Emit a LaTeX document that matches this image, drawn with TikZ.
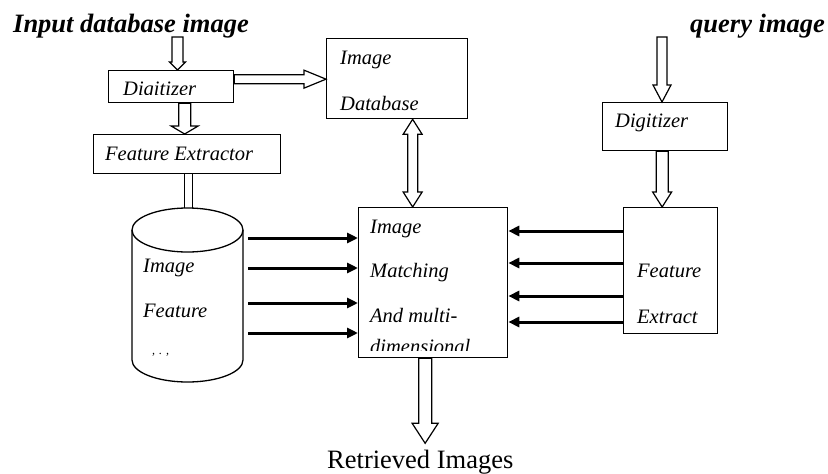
\documentclass[tikz,border=0pt]{standalone}
\usepackage{fontspec}
\setmainfont{Liberation Serif}
\usetikzlibrary{calc,arrows.meta}
% single hollow arrow: start, end, shaft half width, head half width, head length
\newcommand{\hollowarr}[5]{%
  \path ($(#2)!#5!(#1)$) coordinate (ha);
  \draw[hollow] ($(#1)!#3!90:(#2)$) -- ($(ha)!#3!90:(#2)$) -- ($(ha)!#4!90:(#2)$) -- (#2)
    -- ($(ha)!#4!-90:(#2)$) -- ($(ha)!#3!-90:(#2)$) -- ($(#1)!#3!-90:(#2)$) -- cycle;}
% double-headed hollow arrow
\newcommand{\dblarr}[5]{%
  \path ($(#1)!#5!(#2)$) coordinate (hb1) ($(#2)!#5!(#1)$) coordinate (hb2);
  \draw[hollow] (#1) -- ($(hb1)!#4!90:(#2)$) -- ($(hb1)!#3!90:(#2)$) -- ($(hb2)!#3!90:(#2)$)
    -- ($(hb2)!#4!90:(#2)$) -- (#2) -- ($(hb2)!#4!-90:(#2)$) -- ($(hb2)!#3!-90:(#2)$)
    -- ($(hb1)!#3!-90:(#2)$) -- ($(hb1)!#4!-90:(#2)$) -- cycle;}
\begin{document}
\begin{tikzpicture}[x=1pt,y=-1pt,
  box/.style={draw, line width=1.3pt, inner sep=0, anchor=north west},
  lbl/.style={anchor=base west, inner sep=0, font=\fontsize{20.5}{24}\selectfont\itshape},
  title/.style={anchor=base west, inner sep=0, font=\fontsize{26.5}{30}\selectfont\bfseries\itshape},
  hollow/.style={draw, line width=1.2pt, line join=miter},
  thickarr/.style={line width=3pt, -{Triangle[length=11pt,width=10pt]}}
]
\useasboundingbox[fill=white] (0,0) rectangle (828,474);

% boxes
\node[box, minimum width=125, minimum height=32] (dig1) at (108,70) {};
\node[box, minimum width=187, minimum height=39] (fe) at (93,134) {};
\node[box, minimum width=141, minimum height=80] (db) at (326,38) {};
\node[box, minimum width=149, minimum height=150] (match) at (358,207) {};
\node[box, minimum width=125, minimum height=48] (dig2) at (602,102) {};
\node[box, minimum width=94, minimum height=126] (fx) at (623,207) {};
\node[inner sep=0, minimum width=111, minimum height=174, anchor=north west] (cyl) at (132,208) {};

% cylinder
\draw[line width=1.3pt] (132,230) -- (132,360) .. controls (132,372.15) and (156.85,382) .. (187.5,382)
  .. controls (218.15,382) and (243,372.15) .. (243,360) -- (243,230);
\draw[line width=1.3pt] (187.5,230) ellipse [x radius=55.5, y radius=22];

% titles
\node[title] (t1) at (13,32) {Input database image};
\node[title] (t2) at (690,32) {query image};
\node[anchor=base west, inner sep=0, font=\fontsize{26.5}{30}\selectfont] (ret) at (327,468) {Retrieved Images};

% labels
\begin{scope}
  \clip (108,70) rectangle (233,94);
  \node[lbl] (dig1t) at (123,95) {Digitizer};
\end{scope}
\node[lbl] (fet) at (105,160) {Feature Extractor};
\node[lbl] (dbt1) at (340,64) {Image};
\node[lbl] (dbt2) at (340,110) {Database};
\node[lbl] (dig2t) at (615,127) {Digitizer};
\node[lbl] (m1) at (370,233) {Image};
\node[lbl] (m2) at (370,277) {Matching};
\node[lbl] (m3) at (370,322) {And multi-};
\begin{scope}
  \clip (358,207) rectangle (507,350);
  \node[lbl] (m4) at (370,353) {dimensional};
\end{scope}
\node[lbl] (c1) at (143,272) {Image};
\node[lbl] (c2) at (143,317) {Feature};
\node[anchor=base west, inner sep=0, font=\fontsize{12}{14}\selectfont\itshape] (c3) at (152,354) {,\,\,.\,\,,};
\node[lbl] (f1) at (637,277) {Feature};
\node[lbl] (f2) at (637,323) {Extract};

% hollow arrows
\coordinate (i1) at (177.5,37);
\coordinate (i1e) at (i1 |- dig1.north);
\hollowarr{i1}{i1e}{5.5pt}{8pt}{8pt}

\coordinate (a2s) at ($(dig1.south)+(13.5,0)$);
\coordinate (a2e) at (a2s |- fe.north);
\hollowarr{a2s}{a2e}{6pt}{13.5pt}{8pt}

\coordinate (a3s) at ($(dig1.east)+(0,-7.5)$);
\coordinate (a3e) at (a3s -| db.west);
\hollowarr{a3s}{a3e}{4.5pt}{9pt}{22pt}

\coordinate (a4s) at ($(db.south)+(15.5,0)$);
\coordinate (a4e) at (a4s |- match.north);
\dblarr{a4s}{a4e}{5pt}{9.5pt}{15pt}

\coordinate (q1) at (662,37);
\coordinate (q1e) at (q1 |- dig2.north);
\hollowarr{q1}{q1e}{5pt}{9pt}{17pt}

\coordinate (a6s) at ($(dig2.south)+(-3,0)$);
\coordinate (a6e) at (a6s |- fx.north);
\hollowarr{a6s}{a6e}{6pt}{9.5pt}{15pt}

\coordinate (a7s) at ($(match.south)+(-8,0)$);
\coordinate (a7e) at ($(a7s)+(0,85)$);
\hollowarr{a7s}{a7e}{6.5pt}{13pt}{20pt}

% double line feature extractor -> cylinder
\coordinate (d1s) at ($(fe.south)+(-2.5,0)$);
\coordinate (d2s) at ($(fe.south)+(5.5,0)$);
\draw[line width=1.2pt] (d1s) -- (d1s |- cyl.north);
\draw[line width=1.2pt] (d2s) -- (d2s |- cyl.north);

% thick arrows
\foreach \i/\dy in {1/30,2/60,3/95,4/125} {
  \coordinate (l\i) at ($(cyl.north east)+(5,\dy)$);
  \draw[thickarr] (l\i) -- (l\i -| match.west);
}
\foreach \i/\dy in {1/24,2/56,3/89,4/115} {
  \coordinate (r\i) at ($(fx.north west)+(0,\dy)$);
  \draw[thickarr] (r\i) -- (r\i -| match.east);
}
\end{tikzpicture}
\end{document}
